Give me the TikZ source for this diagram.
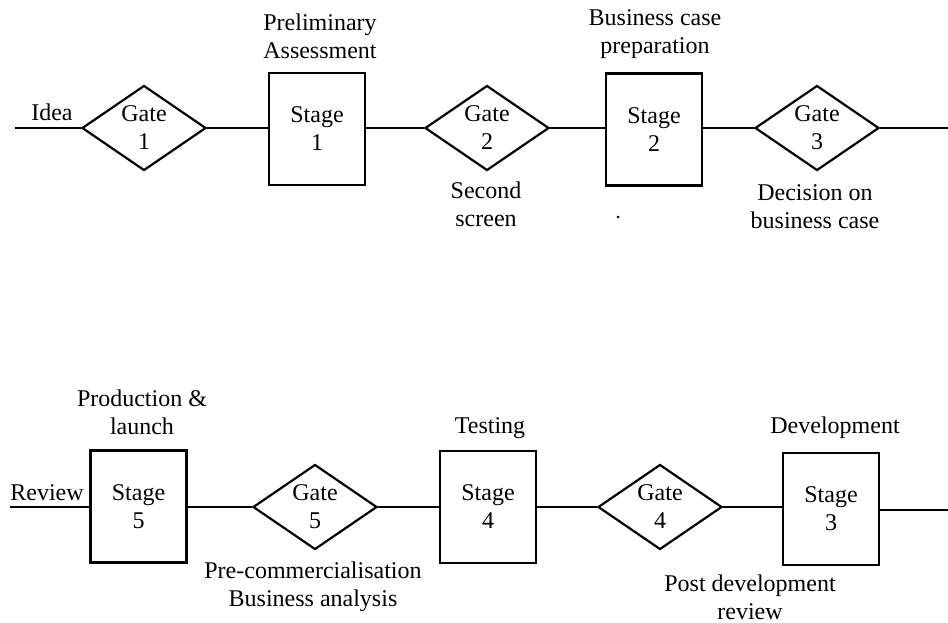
\documentclass[tikz,border=0pt]{standalone}
\usepackage{fontspec}
\setmainfont{Liberation Serif}
\usetikzlibrary{shapes.geometric}
\begin{document}
\begin{tikzpicture}[x=0.5pt,y=-0.5pt,
  every node/.style={font=\fontsize{12}{14}\selectfont, align=center},
  gatebox/.style={draw, line width=1.1pt, diamond, aspect=1.5, inner sep=0pt,
    minimum width=62pt, minimum height=42.5pt},
  stagebox/.style={draw, line width=1.1pt, rectangle, inner sep=0pt,
    minimum width=48pt, minimum height=56pt},
  flow/.style={line width=1.1pt},
  lbl/.style={inner sep=0pt}]
\useasboundingbox (0,0) rectangle (948,622);

% top row
\coordinate (in1) at (15,128);
\node[gatebox]  (g1) at (144,128) {Gate\\1};
\node[stagebox] (s1) at (317,129) {Stage\\1};
\node[gatebox]  (g2) at (487,128) {Gate\\2};
\node[stagebox] (s2) at (654,129.5) {Stage\\2};
\node[gatebox]  (g3) at (817,128) {Gate\\3};
\coordinate (out1) at (948,128);

\draw[flow] (in1) -- (g1.west);
\draw[flow] (g1.east) -- (g1.east -| s1.west);
\draw[flow] (s1.east |- g2.west) -- (g2.west);
\draw[flow] (g2.east) -- (g2.east -| s2.west);
\draw[flow] (s2.east |- g3.west) -- (g3.west);
\draw[flow] (g3.east) -- (out1);

\node[lbl] (lidea) at (52,112) {Idea};
\node[lbl] (lpre)  at (320,36) {Preliminary\\Assessment};
\node[lbl] (lbus)  at (655,34) {Business case\\preparation};
\node[lbl] (lsec)  at (486,204) {Second\\screen};
\node[lbl] (ldec)  at (815,207) {Decision on\\business case};
\fill (618,217) circle (1.5);

% bottom row
\coordinate (in2) at (10,507);
\node[stagebox] (s5) at (138.5,506.5) {Stage\\5};
\node[gatebox]  (g5) at (315,507) {Gate\\5};
\node[stagebox] (s4) at (488,507) {Stage\\4};
\node[gatebox]  (g4) at (660,507) {Gate\\4};
\node[stagebox] (s3) at (831,509) {Stage\\3};
\coordinate (out2) at (948,510);

\draw[flow] (in2) -- (in2 -| s5.west);
\draw[flow] (s5.east |- g5.west) -- (g5.west);
\draw[flow] (g5.east) -- (g5.east -| s4.west);
\draw[flow] (s4.east |- g4.west) -- (g4.west);
\draw[flow] (g4.east) -- (g4.east -| s3.west);
\draw[flow] (out2 -| s3.east) -- (out2);

\node[lbl] (lrev)  at (47,493) {Review};
\node[lbl] (lprod) at (142,412) {Production \&\\launch};
\node[lbl] (ltest) at (490,428) {Testing};
\node[lbl] (ldev)  at (835,428) {Development};
\node[lbl] (lcom)  at (313,587) {Pre-commercialisation\\Business analysis};
\node[lbl] (lpost) at (750,597) {Post development\\review};
\end{tikzpicture}
\end{document}
